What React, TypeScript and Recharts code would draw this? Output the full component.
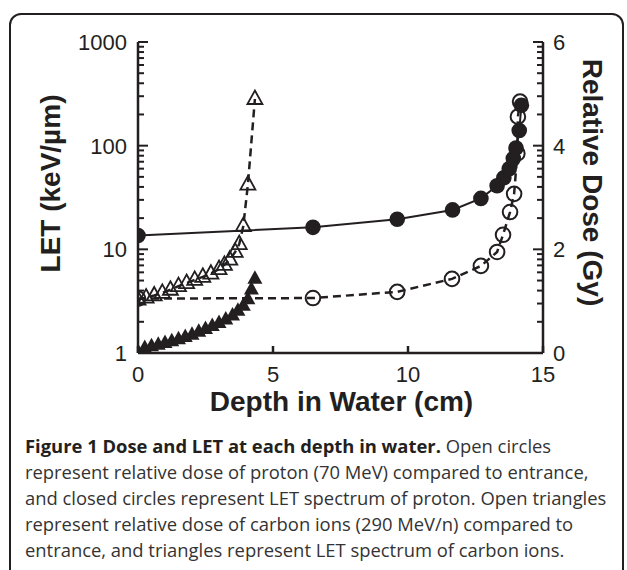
import React from 'react';
import { ComposedChart, Scatter, XAxis, YAxis, Label } from 'recharts';

// ---- data ----
const protonLetDepth = [0, 6.48, 9.6, 11.65, 12.7, 13.3, 13.55, 13.75, 13.9, 14.0, 14.12, 14.2];
const protonLetValue = [13.6, 16.3, 19.5, 24, 31, 41, 49, 60, 75, 95, 140, 245];

const protonDoseDepth = [0, 6.48, 9.6, 11.63, 12.7, 13.3, 13.52, 13.78, 13.93, 14.05, 14.07, 14.15];
const protonDoseValue = [1.05, 1.06, 1.18, 1.43, 1.68, 1.95, 2.28, 2.72, 3.07, 3.85, 4.56, 4.85];

const carbonDoseDepth = [0, 0.3, 0.6, 0.9, 1.2, 1.5, 1.8, 2.1, 2.4, 2.7, 3.0, 3.2, 3.4, 3.6, 3.75, 3.9, 4.07, 4.33];
const carbonDoseValue = [1.03, 1.07, 1.11, 1.16, 1.22, 1.29, 1.35, 1.41, 1.47, 1.53, 1.62, 1.7, 1.8, 1.95, 2.1, 2.45, 3.25, 4.9];

const carbonLetDepth = [0, 0.25, 0.5, 0.75, 1.0, 1.25, 1.5, 1.75, 2.0, 2.25, 2.5, 2.75, 3.0, 3.25, 3.5, 3.7, 3.9, 4.07, 4.2, 4.33];
const carbonLetValue = [1.03, 1.12, 1.16, 1.2, 1.25, 1.3, 1.36, 1.43, 1.5, 1.6, 1.7, 1.82, 1.95, 2.1, 2.3, 2.55, 2.85, 3.3, 4.1, 5.2];

const xTicks = [0, 5, 10, 15];
const letMajorTicks = [1, 10, 100, 1000];
const letTicks = [1, 2, 3, 4, 5, 6, 7, 8, 9, 10, 20, 30, 40, 50, 60, 70, 80, 90, 100, 200, 300, 400, 500, 600, 700, 800, 900, 1000];
const doseMajorTicks = [0, 2, 4, 6];
// minor dose ticks mirror the log ticks of the LET axis (2 dose units per decade)
const doseMinorTicks = letTicks.filter((v) => !letMajorTicks.includes(v)).map((v) => 2 * Math.log10(v));
const doseTicks = [...doseMajorTicks, ...doseMinorTicks];

const captionBold = 'Figure 1 Dose and LET at each depth in water.';
const captionLines = [
  ' Open circles',
  'represent relative dose of proton (70 MeV) compared to entrance,',
  'and closed circles represent LET spectrum of proton. Open triangles',
  'represent relative dose of carbon ions (290 MeV/n) compared to',
  'entrance, and triangles represent LET spectrum of carbon ions.',
];

const zip = (xs: number[], ys: number[]) => xs.map((x, i) => ({ x, y: ys[i] }));
const protonLet = zip(protonLetDepth, protonLetValue);
const protonDose = zip(protonDoseDepth, protonDoseValue);
const carbonDose = zip(carbonDoseDepth, carbonDoseValue);
const carbonLet = zip(carbonLetDepth, carbonLetValue);

const INK = '#231f20';
const FONT = '"Liberation Sans", Arial, Helvetica, sans-serif';

const OpenCircle = (p: any) => (
  <circle cx={p.cx} cy={p.cy} r={7.3} fill="none" stroke={INK} strokeWidth={2} />
);
const FilledCircle = (p: any) => <circle cx={p.cx} cy={p.cy} r={7.8} fill={INK} stroke="none" />;
const triPoints = (cx: number, cy: number) =>
  `${cx},${cy - 8.5} ${cx + 7.5},${cy + 5} ${cx - 7.5},${cy + 5}`;
const OpenTriangle = (p: any) => (
  <polygon points={triPoints(p.cx, p.cy)} fill="none" stroke={INK} strokeWidth={1.8} strokeLinejoin="miter" />
);
const FilledTriangle = (p: any) => <polygon points={triPoints(p.cx, p.cy)} fill={INK} stroke="none" />;

const LeftTick = (p: any) => {
  const { x, y, payload } = p;
  const major = letMajorTicks.includes(payload.value);
  return (
    <g>
      <line x1={x} x2={x + (major ? 10 : 6)} y1={y} y2={y} stroke={INK} strokeWidth={2} />
      {major && (
        <text x={x - 11} y={y + 8} textAnchor="end" fontSize={22} fill={INK} fontFamily={FONT}>
          {payload.value}
        </text>
      )}
    </g>
  );
};

const RightTick = (p: any) => {
  const { x, y, payload } = p;
  const major = doseMajorTicks.includes(payload.value);
  return (
    <g>
      <line x1={x} x2={x - (major ? 10 : 6)} y1={y} y2={y} stroke={INK} strokeWidth={2} />
      {major && (
        <text x={x + 10} y={y + 8} textAnchor="start" fontSize={22} fill={INK} fontFamily={FONT}>
          {payload.value}
        </text>
      )}
    </g>
  );
};

const BottomTick = (p: any) => {
  const { x, y, payload } = p;
  return (
    <g>
      <line x1={x} x2={x} y1={y} y2={y - 7} stroke={INK} strokeWidth={2.5} />
      <text x={x} y={y + 29} textAnchor="middle" fontSize={22} fill={INK} fontFamily={FONT}>
        {payload.value}
      </text>
    </g>
  );
};

export default function App() {
  return (
    <div style={{ position: 'absolute', left: 0, top: 0, width: 627, height: 570, background: '#fff', overflow: 'hidden' }}>
      <div
        style={{
          position: 'absolute',
          left: 9,
          top: 13,
          width: 615,
          height: 600,
          border: `2px solid ${INK}`,
          borderRadius: 12,
          boxSizing: 'border-box',
        }}
      />
      <div style={{ position: 'absolute', left: 0, top: 0 }}>
        <ComposedChart width={627} height={425} margin={{ top: 42, right: 0, bottom: 0, left: 0 }}>
          <XAxis
            dataKey="x"
            type="number"
            domain={[0, 15]}
            ticks={xTicks}
            allowDataOverflow
            height={72}
            interval={0}
            tickSize={0}
            tickMargin={0}
            tickLine={false}
            tick={<BottomTick />}
            axisLine={{ stroke: INK, strokeWidth: 2.5 }}
          >
            <Label
              content={(props: any) => {
                const vb = props.viewBox;
                return (
                  <text
                    x={vb.x + vb.width / 2 + 1}
                    y={vb.y + 58}
                    textAnchor="middle"
                    fontSize={28}
                    fontWeight="bold"
                    fill={INK}
                    fontFamily={FONT}
                  >
                    Depth in Water (cm)
                  </text>
                );
              }}
            />
          </XAxis>
          <YAxis
            yAxisId="let"
            orientation="left"
            dataKey="y"
            type="number"
            scale="log"
            domain={[1, 1000]}
            ticks={letTicks}
            allowDataOverflow
            width={138}
            interval={0}
            tickSize={0}
            tickMargin={0}
            tickLine={false}
            tick={<LeftTick />}
            axisLine={{ stroke: INK, strokeWidth: 2.5 }}
          >
            <Label
              content={(props: any) => {
                const vb = props.viewBox;
                const cx = 60;
                const cy = vb.y + vb.height / 2 - 14;
                return (
                  <text
                    x={cx}
                    y={cy}
                    transform={`rotate(-90 ${cx} ${cy})`}
                    textAnchor="middle"
                    fontSize={28}
                    fontWeight="bold"
                    fill={INK}
                    fontFamily={FONT}
                  >
                    LET (keV/µm)
                  </text>
                );
              }}
            />
          </YAxis>
          <YAxis
            yAxisId="dose"
            orientation="right"
            dataKey="y"
            type="number"
            domain={[0, 6]}
            ticks={doseTicks}
            allowDataOverflow
            width={84}
            interval={0}
            tickSize={0}
            tickMargin={0}
            tickLine={false}
            tick={<RightTick />}
            axisLine={{ stroke: INK, strokeWidth: 2.5 }}
          >
            <Label
              content={(props: any) => {
                const vb = props.viewBox;
                const cx = 583;
                const cy = vb.y + vb.height / 2 - 15;
                return (
                  <text
                    x={cx}
                    y={cy}
                    transform={`rotate(90 ${cx} ${cy})`}
                    textAnchor="middle"
                    fontSize={28}
                    fontWeight="bold"
                    fill={INK}
                    fontFamily={FONT}
                  >
                    Relative Dose (Gy)
                  </text>
                );
              }}
            />
          </YAxis>

          <Scatter
            name="Carbon LET"
            data={carbonLet}
            yAxisId="let"
            dataKey="y"
            fill={INK}
            shape={FilledTriangle}
            isAnimationActive={false}
          />
          <Scatter
            name="Carbon dose"
            data={carbonDose}
            yAxisId="dose"
            dataKey="y"
            fill={INK}
            shape={OpenTriangle}
            line={{ stroke: INK, strokeWidth: 2.5, strokeDasharray: '8 5' }}
            lineType="joint"
            isAnimationActive={false}
          />
          <Scatter
            name="Proton dose"
            data={protonDose}
            yAxisId="dose"
            dataKey="y"
            fill={INK}
            shape={OpenCircle}
            line={{ stroke: INK, strokeWidth: 2.5, strokeDasharray: '8 5' }}
            lineType="joint"
            isAnimationActive={false}
          />
          <Scatter
            name="Proton LET"
            data={protonLet}
            yAxisId="let"
            dataKey="y"
            fill={INK}
            shape={FilledCircle}
            line={{ stroke: INK, strokeWidth: 2 }}
            lineType="joint"
            isAnimationActive={false}
          />
        </ComposedChart>
      </div>
      <div
        style={{
          position: 'absolute',
          left: 25,
          top: 433,
          fontFamily: '"Open Sans", sans-serif',
          fontSize: 18.4,
          lineHeight: '26px',
          color: '#333',
          whiteSpace: 'nowrap',
        }}
      >
        <div>
          <span style={{ fontWeight: 700, color: '#231f20' }}>{captionBold}</span>
          {captionLines[0]}
        </div>
        {captionLines.slice(1).map((l, i) => (
          <div key={i}>{l}</div>
        ))}
      </div>
    </div>
  );
}
